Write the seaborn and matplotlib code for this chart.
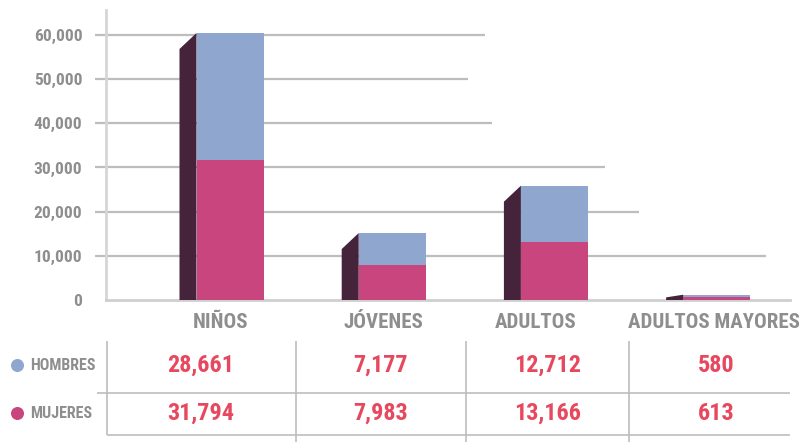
import numpy as np
import pandas as pd
import seaborn as sns
import matplotlib.pyplot as plt
from matplotlib import font_manager

#======datos======
categorias = ['NIÑOS', 'JÓVENES', 'ADULTOS', 'ADULTOS MAYORES']
hombres = [28661, 7177, 12712, 580]
mujeres = [31794, 7983, 13166, 613]
series = ['HOMBRES', 'MUJERES']
yticks = [0, 10000, 20000, 30000, 40000, 50000, 60000]

AZUL = '#8fa7ce'
ROSA = '#c9457d'
OSCURO = '#45233b'
GRIS = '#8e8e8e'
ROJO = '#e8485e'
LINEA = '#bdbdbd'

names = {f.name for f in font_manager.fontManager.ttflist}
fuente = next((n for n in ['Liberation Sans Narrow', 'Roboto Condensed', 'Open Sans Condensed']
               if n in names), 'DejaVu Sans')

sns.set_theme(style='white')
plt.rcParams['font.family'] = [fuente, 'DejaVu Sans']

df = pd.DataFrame({'categoria': categorias, 'hombres': hombres, 'mujeres': mujeres})
df['total'] = df['hombres'] + df['mujeres']

#======lienzo======
W, H = 801, 442
fig = plt.figure(figsize=(W / 100, H / 100), dpi=100)
fondo = fig.add_axes([0, 0, 1, 1])
fondo.set_xlim(0, W)
fondo.set_ylim(H, 0)
fondo.axis('off')

x0, x1, y0, y1 = 106, 790, 300, 10
ax = fig.add_axes([x0 / W, (H - y0) / H, (x1 - x0) / W, (y0 - y1) / H])
ax.patch.set_alpha(0)

px_por_10k = (300 - 35) / 6
ymax = 10000 * (y0 - y1) / px_por_10k
paso = 162.2
centro0 = 230
ancho = 67 / paso
lado = 17 / paso

#======barras======
sns.barplot(data=df, x='categoria', y='total', color=AZUL, width=ancho,
            saturation=1, errorbar=None, ax=ax, zorder=3, linewidth=0)
sns.barplot(data=df, x='categoria', y='mujeres', color=ROSA, width=ancho,
            saturation=1, errorbar=None, ax=ax, zorder=4, linewidth=0)

# cara lateral oscura (efecto 3D)
caida = 16 * 10000 / px_por_10k
for i, v in enumerate(df['total']):
    r = i - ancho / 2
    l = r - lado
    d = min(caida, v * 0.5)
    ax.fill([l, r, r, l], [0, 0, v, v - d], color=OSCURO, lw=0, zorder=3)

ax.set_xlim((x0 - centro0) / paso, (x1 - centro0) / paso)
ax.set_ylim(0, ymax)

#======rejilla======
grid_fin = [766, 639, 605, 492, 468, 485]
for t, fin in zip(yticks[1:], grid_fin):
    ax.hlines(t, (95 - x0) / (x1 - x0), (fin - x0) / (x1 - x0), transform=ax.get_yaxis_transform(),
              color=LINEA, lw=1.6, clip_on=False, zorder=1)

for s in ['top', 'right']:
    ax.spines[s].set_visible(False)
ax.spines['left'].set_color('#d6d6d6')
ax.spines['left'].set_linewidth(2)
ax.spines['bottom'].set_color('#cfcfcf')
ax.spines['bottom'].set_linewidth(2)

ax.set_yticks(yticks)
ax.set_yticklabels([f'{t:,}' for t in yticks], fontweight='bold')
ax.tick_params(axis='y', length=0, pad=17, labelsize=12.5, labelcolor=GRIS)
ax.set_xticks([])
ax.set_xlabel('')
ax.set_ylabel('')

#======tabla======
cat_x = [221, 383, 536, 714]
for cx, c in zip(cat_x, categorias):
    fondo.text(cx, 323, c, ha='center', va='center', fontsize=15, fontweight='bold', color=GRIS)

val_x = [201, 381, 548, 716]
fila_y = [365, 413]
colores = [AZUL, ROSA]
for fy, nombre, col, vals in zip(fila_y, series, colores, [hombres, mujeres]):
    fondo.scatter([17], [fy], s=70, color=col, zorder=5)
    fondo.text(30, fy + 1, nombre, ha='left', va='center', fontsize=11.5, fontweight='bold', color=GRIS)
    for vx, v in zip(val_x, vals):
        fondo.text(vx, fy, f'{v:,}', ha='center', va='center', fontsize=17.5, fontweight='bold', color=ROJO)

fondo.vlines(107, 341, 435, color=LINEA, lw=1.2)
fondo.vlines([296, 466, 629], 341, 442, color=LINEA, lw=1.2)
fondo.hlines(393, 97, 790, color=LINEA, lw=1.2)
fondo.hlines(435, 107, 790, color=LINEA, lw=1.2)

fig.savefig('out.png', dpi=100)
